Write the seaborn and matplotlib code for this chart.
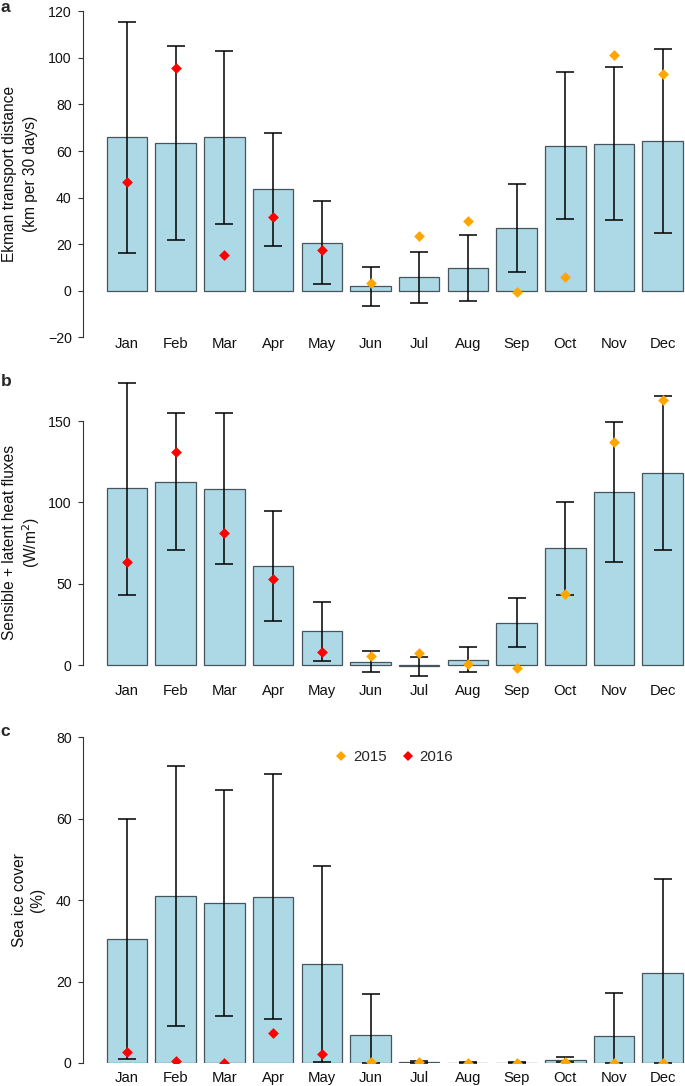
import numpy as np
import pandas as pd
import seaborn as sns
import matplotlib.pyplot as plt
from matplotlib.lines import Line2D

months = ['Jan', 'Feb', 'Mar', 'Apr', 'May', 'Jun', 'Jul', 'Aug', 'Sep', 'Oct', 'Nov', 'Dec']
nan = np.nan

# a: Ekman transport distance (km per 30 days)
ekman_mean = [66.0, 63.6, 66.0, 43.5, 20.5, 1.9, 5.7, 9.7, 26.8, 62.3, 63.1, 64.3]
ekman_lo = [16.3, 21.9, 28.8, 19.3, 2.9, -6.6, -5.3, -4.4, 7.9, 30.8, 30.3, 24.9]
ekman_hi = [115.5, 105.2, 102.9, 67.9, 38.4, 10.3, 16.7, 23.8, 45.8, 93.8, 96.0, 103.8]
ekman_2015 = [nan, nan, nan, nan, nan, 3.4, 23.3, 30.1, -0.7, 5.9, 101.3, 93.0]
ekman_2016 = [46.8, 95.5, 15.2, 31.8, 17.3, nan, nan, nan, nan, nan, nan, nan]

# b: sensible + latent heat fluxes (W/m2)
heat_mean = [108.6, 112.7, 108.4, 60.7, 20.7, 2.0, -0.5, 3.3, 25.8, 71.7, 106.1, 118.0]
heat_lo = [43.2, 70.7, 62.1, 26.8, 2.7, -4.5, -6.6, -4.1, 10.9, 43.0, 63.1, 70.9]
heat_hi = [173.6, 154.9, 154.7, 94.9, 38.9, 8.6, 4.9, 10.9, 41.2, 100.2, 149.4, 165.6]
heat_2015 = [nan, nan, nan, nan, nan, 5.5, 7.6, 0.8, -1.8, 43.6, 136.9, 162.9]
heat_2016 = [63.5, 130.9, 80.9, 52.7, 8.2, nan, nan, nan, nan, nan, nan, nan]

# c: sea ice cover (%)
ice_mean = [30.5, 40.9, 39.4, 40.8, 24.2, 6.8, 0.3, 0.1, 0.1, 0.8, 6.6, 22.1]
ice_lo = [1.1, 9.1, 11.6, 10.7, 0.3, 0.0, 0.1, 0.0, 0.0, 0.2, 0.0, 0.0]
ice_hi = [59.9, 73.0, 67.1, 70.9, 48.3, 17.0, 0.6, 0.2, 0.2, 1.5, 17.1, 45.3]
ice_2015 = [nan, nan, nan, nan, nan, 0.3, 0.2, 0.1, 0.1, 0.2, 0.1, 0.1]
ice_2016 = [2.8, 0.6, 0.1, 7.4, 2.2, nan, nan, nan, nan, nan, nan, nan]

sns.set_style('ticks')
plt.rcParams['font.family'] = ['Liberation Sans', 'DejaVu Sans']

W, H = 685, 1086
fig = plt.figure(figsize=(W / 100, H / 100), dpi=100)

bar_color = '#ADD8E6'
edge_color = '#46555c'

# layout in pixels (top / bottom of each axes), y limits, label positions
panels = [
    dict(mean=ekman_mean, lo=ekman_lo, hi=ekman_hi, p15=ekman_2015, p16=ekman_2016,
         top=2, bot=338, ylim=(-20.3, 124.0), ticks=np.arange(-20, 121, 20), bounds=(-20, 120),
         lab=['Ekman transport distance', '(km per 30 days)'], labx=(9.5, 31), laby=174,
         tag='a', tagy=7.5, pad=-0.4),
    dict(mean=heat_mean, lo=heat_lo, hi=heat_hi, p15=heat_2015, p16=heat_2016,
         top=370, bot=680, ylim=(-9.2, 181.4), ticks=np.arange(0, 151, 50), bounds=(0, 150),
         lab=['Sensible + latent heat fluxes', '(W/m$^2$)'], labx=(10, 31), laby=543,
         tag='b', tagy=381, pad=3.2),
    dict(mean=ice_mean, lo=ice_lo, hi=ice_hi, p15=ice_2015, p16=ice_2016,
         top=725, bot=1063, ylim=(0, 83.0), ticks=np.arange(0, 81, 20), bounds=(0, 80),
         lab=['Sea ice cover', '(%)'], labx=(20, 37.5), laby=900,
         tag='c', tagy=731, pad=5.9),
]

left_px = 82.7
pos = np.arange(len(months))
for p in panels:
    ax = fig.add_axes([left_px / W, 1 - p['bot'] / H, 1 - left_px / W, (p['bot'] - p['top']) / H])
    df = pd.DataFrame({'month': months, 'mean': p['mean'], 'lo': p['lo'], 'hi': p['hi'],
                       'y2015': p['p15'], 'y2016': p['p16']})

    sns.barplot(data=df, x='month', y='mean', order=months, width=0.833, color=bar_color,
                saturation=1, edgecolor=edge_color, linewidth=0.9, errorbar=None, ax=ax, zorder=1)

    yerr = [df['mean'] - df['lo'], df['hi'] - df['mean']]
    ax.errorbar(pos, df['mean'], yerr=yerr, fmt='none', ecolor='black',
                elinewidth=1.1, capsize=6.4, capthick=1.1, zorder=2)

    sns.scatterplot(x=pos, y=df['y2015'], marker='D', color='#FFA500', s=30, linewidth=0,
                    legend=False, ax=ax, zorder=3)
    sns.scatterplot(x=pos, y=df['y2016'], marker='D', color='#FF0000', s=30, linewidth=0,
                    legend=False, ax=ax, zorder=3)

    ax.set_xlim((left_px - 127) / 48.7, (W - 127) / 48.7)
    ax.set_ylim(*p['ylim'])
    ax.set_yticks(p['ticks'])
    ax.set_xticks(pos)
    ax.set_xticklabels(months)
    ax.set_xlabel('')
    ax.set_ylabel('')
    for s in ['top', 'right', 'bottom']:
        ax.spines[s].set_visible(False)
    ax.spines['left'].set_bounds(*p['bounds'])
    ax.spines['left'].set_color('#333333')
    ax.spines['left'].set_linewidth(0.8)
    ax.tick_params(axis='x', length=0, labelsize=10.7, pad=p['pad'], colors='#111111')
    ax.tick_params(axis='y', length=3.3, width=0.8, color='#333333', labelsize=10.2,
                   pad=4.6, labelcolor='#111111')
    ax.patch.set_alpha(0)

    fig.text(p['labx'][0] / W, 1 - p['laby'] / H, p['lab'][0], rotation=90,
             ha='center', va='center', fontsize=11.2, color='#111111')
    fig.text(p['labx'][1] / W, 1 - p['laby'] / H, p['lab'][1], rotation=90,
             ha='center', va='center', fontsize=11.2, color='#111111')
    fig.text(0.5 / W, 1 - p['tagy'] / H, p['tag'], ha='left', va='center',
             fontsize=12.5, fontweight='bold')

handles = [Line2D([], [], marker='D', color='#FFA500', linestyle='none', markersize=4.8, markeredgewidth=0),
           Line2D([], [], marker='D', color='#FF0000', linestyle='none', markersize=4.8, markeredgewidth=0)]
fig.legend(handles, ['2015', '2016'], ncol=2, frameon=False, loc='center',
           bbox_to_anchor=(394 / W, 1 - 757 / H), fontsize=10.8, handlelength=0.8,
           handletextpad=0.4, columnspacing=1.0)

fig.savefig('out.png', dpi=100)
